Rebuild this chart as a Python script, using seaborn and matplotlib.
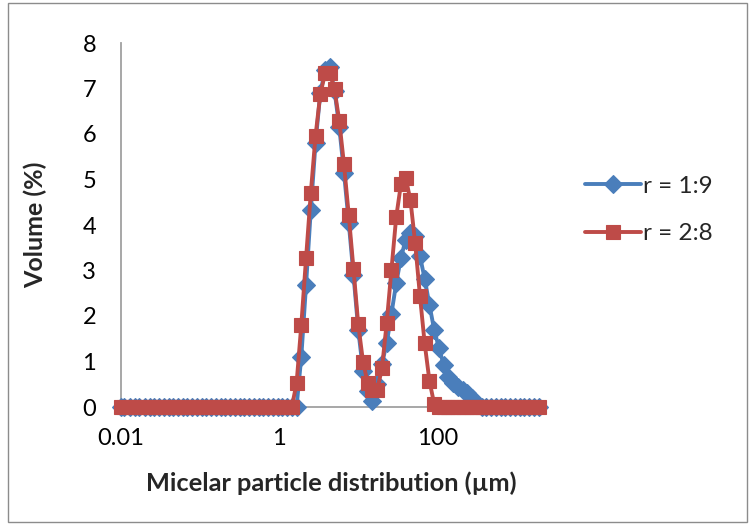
import matplotlib
matplotlib.use("Agg")
import matplotlib.pyplot as plt
import seaborn as sns
import pandas as pd
from matplotlib.patches import Rectangle

# particle size classes (µm)
sizes = [0.010, 0.011, 0.013, 0.015, 0.017, 0.020, 0.023, 0.026, 0.030, 0.035,
         0.040, 0.046, 0.052, 0.060, 0.069, 0.079, 0.091, 0.105, 0.120, 0.138,
         0.158, 0.182, 0.209, 0.240, 0.275, 0.316, 0.363, 0.417, 0.479, 0.550,
         0.631, 0.724, 0.832, 0.955, 1.096, 1.259, 1.445, 1.660, 1.905, 2.188,
         2.512, 2.884, 3.311, 3.802, 4.365, 5.012, 5.754, 6.607, 7.586, 8.710,
         10.000, 11.482, 13.183, 15.136, 17.378, 19.953, 22.909, 26.303, 30.200, 34.674,
         39.811, 45.709, 52.481, 60.256, 69.183, 79.433, 91.201, 104.713, 120.226, 138.038,
         158.489, 181.970, 208.930, 239.883, 275.423, 316.228, 363.078, 416.869, 478.630, 549.541,
         630.957, 724.436, 831.764, 954.993, 1096.478, 1258.925, 1445.440, 1659.587, 1905.461]

vol_r19 = ([0.0] * 38 +
           [1.10, 2.68, 4.33, 5.80, 6.90, 7.40, 7.48, 6.95, 6.15, 5.15,
            4.05, 2.90, 1.70, 0.80, 0.35, 0.13, 0.50, 0.95, 1.40, 2.05,
            2.72, 3.28, 3.68, 3.82, 3.75, 3.32, 2.82, 2.25, 1.70, 1.30,
            0.93, 0.67, 0.52, 0.45, 0.38, 0.30, 0.20, 0.06] +
           [0.0] * 13)

vol_r28 = ([0.0] * 37 +
           [0.52, 1.80, 3.27, 4.70, 5.96, 6.87, 7.33, 7.35, 6.98, 6.29,
            5.33, 4.22, 3.03, 1.82, 1.00, 0.52, 0.38, 0.38, 0.85, 1.85,
            3.02, 4.17, 4.90, 5.03, 4.55, 3.60, 2.45, 1.40, 0.58, 0.07] +
           [0.0] * 22)

labels = ["r = 1:9", "r = 2:8"]
x_ticks = [0.01, 1, 100]
x_tick_labels = ["0.01", "1", "100"]
y_ticks = [0, 1, 2, 3, 4, 5, 6, 7, 8]

sns.set_style("white")
plt.rcParams['font.family'] = ['Lato', 'DejaVu Sans']

W, H = 749, 525
fig = plt.figure(figsize=(W / 100, H / 100), dpi=100)
ax = fig.add_axes([121 / W, 1 - 407 / H, 424 / W, 364 / H])

blue = "#4A7EBB"
red = "#BE4B48"

df1 = pd.DataFrame({"size": sizes, "vol": vol_r19})
df2 = pd.DataFrame({"size": sizes, "vol": vol_r28})

sns.lineplot(data=df1, x="size", y="vol", ax=ax, color=blue, lw=2.8,
             marker="D", markersize=9.5, markeredgecolor=blue, markeredgewidth=0.8,
             label=labels[0], clip_on=False)
sns.lineplot(data=df2, x="size", y="vol", ax=ax, color=red, lw=2.8,
             marker="s", markersize=9.5, markeredgecolor=red, markeredgewidth=0.8,
             label=labels[1], clip_on=False)

ax.set_xscale("log")
ax.set_xlim(0.01, 2300)
ax.set_ylim(0, 8)
ax.set_xticks(x_ticks)
ax.set_xticklabels(x_tick_labels)
ax.set_yticks(y_ticks)
ax.minorticks_off()
ax.tick_params(axis="both", length=0, labelsize=17, colors="black")
ax.tick_params(axis="y", pad=18)
ax.tick_params(axis="x", pad=15)

for s in ["top", "right"]:
    ax.spines[s].set_visible(False)
for s in ["left", "bottom"]:
    ax.spines[s].set_color("#A0A0A0")
    ax.spines[s].set_linewidth(1.3)
    ax.spines[s].set_zorder(0)

ax.set_xlabel("Micelar particle distribution (µm)", fontsize=18.3, fontweight="bold")
ax.set_ylabel("Volume (%)", fontsize=18, fontweight="bold")
ax.xaxis.label.set_va("center")
ax.yaxis.label.set_va("center")
ax.xaxis.set_label_coords(0.495, (407 - 483) / 364)
ax.yaxis.set_label_coords((35 - 121) / 424, 0.5)

ax.legend(loc="center left", bbox_to_anchor=(585 / W, 1 - 210 / H),
          bbox_transform=fig.transFigure, frameon=False, fontsize=17.5,
          handlelength=2.3, handletextpad=0.1, labelspacing=1.1,
          borderpad=0, borderaxespad=0)

fig.patches.append(Rectangle((8 / W, 3 / H), 739 / W, 519 / H,
                             transform=fig.transFigure, fill=False,
                             edgecolor="#8C8C8C", lw=1))

fig.savefig("out.png", dpi=100)
